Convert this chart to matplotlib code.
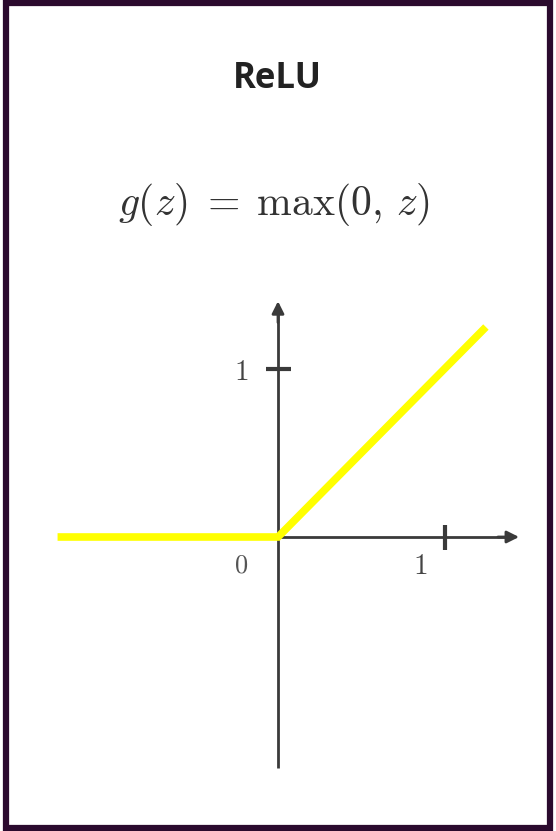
import matplotlib.pyplot as plt
from matplotlib.patches import Rectangle

plt.rcParams['mathtext.fontset'] = 'cm'

# data
relu_x = [-1.32, 0.0, 1.245]
relu_y = [0.0, 0.0, 1.25]
x_ticks = [1]
y_ticks = [1]
x_tick_labels = ['1']
y_tick_labels = ['1']
origin_label = '0'
title = 'ReLU'
formula = r'$g(z)\;=\;\max(0,\,z)$'

axis_col = '#3a3a3a'
relu_col = '#ffff00'
frame_col = '#2b0a2e'

W, H = 556, 831
fig = plt.figure(figsize=(W / 100, H / 100), dpi=100)
fig.patch.set_facecolor('white')

# axes spans whole figure, origin at pixel (278, 537), 1 unit ~ 167 px
ax = fig.add_axes([0, 0, 1, 1])
ax.set_xlim(-278 / 167, (W - 278) / 167)
ax.set_ylim((537 - H) / 168, 537 / 168)
ax.axis('off')

# axes lines with arrows
ax.plot([-1.32, 1.40], [0, 0], color=axis_col, lw=2.0, solid_capstyle='butt', zorder=1)
ax.plot([0, 0], [-1.375, 1.36], color=axis_col, lw=2.0, solid_capstyle='butt', zorder=1)
ax.annotate('', xy=(1.46, 0), xytext=(1.30, 0),
            arrowprops=dict(arrowstyle='-|>', color=axis_col, lw=2.0, mutation_scale=18))
ax.annotate('', xy=(0, 1.42), xytext=(0, 1.26),
            arrowprops=dict(arrowstyle='-|>', color=axis_col, lw=2.0, mutation_scale=18))

# tick marks
for xt in x_ticks:
    ax.plot(xt, 0, marker='|', markersize=18, mew=3, color=axis_col, zorder=2)
for yt in y_ticks:
    ax.plot(0, yt, marker='_', markersize=18, mew=3, color=axis_col, zorder=2)

# tick labels
for xt, lab in zip(x_ticks, x_tick_labels):
    ax.text(xt - 0.15, -0.17, '$' + lab + '$', fontsize=21, color='#444444',
            ha='center', va='center')
for yt, lab in zip(y_ticks, y_tick_labels):
    ax.text(-0.22, yt - 0.02, '$' + lab + '$', fontsize=21, color='#444444',
            ha='center', va='center')
ax.text(-0.22, -0.17, '$' + origin_label + '$', fontsize=19, color='#555555',
        ha='center', va='center')

# relu curve
ax.plot(relu_x, relu_y, color=relu_col, lw=5.5, solid_capstyle='butt',
        solid_joinstyle='miter', zorder=3)

# title and formula
fig.text(277 / W, 1 - 79 / H, title, fontsize=25, fontweight='bold',
         family='Open Sans', color='#222222', ha='center', va='center')
fig.text(274 / W, 1 - 205 / H, formula, fontsize=30, color='#333333',
         ha='center', va='center')

# frame
fig.patches.append(Rectangle((6 / W, 3 / H), 1 - 12 / W, 1 - 6 / H,
                             transform=fig.transFigure, fill=False,
                             edgecolor=frame_col, lw=4.5))

fig.savefig('out.png', dpi=100, facecolor='white')
